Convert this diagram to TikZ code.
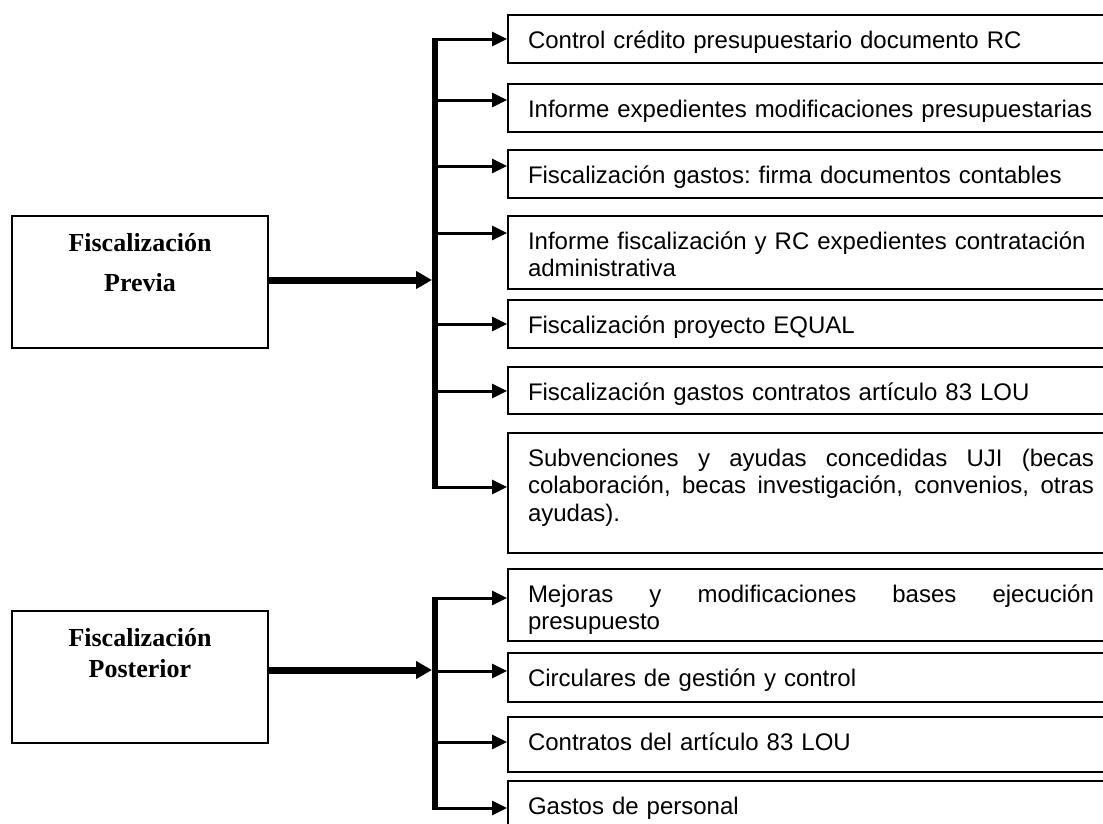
\documentclass[tikz,border=0pt]{standalone}
\usepackage{fontspec}
\setmainfont{Liberation Sans}
\newfontfamily\headfont{Liberation Serif}
\usetikzlibrary{positioning,arrows.meta}
\hyphenpenalty=10000
\exhyphenpenalty=10000
\tolerance=10000
\frenchspacing
\tikzstyle{itembox}=[draw, line width=2pt, anchor=north west, inner xsep=20pt, inner ysep=0pt, text width=566pt, text height=33pt, align=left, font=\fontsize{24}{27.5}\selectfont]
\tikzstyle{headbox}=[draw, line width=2pt, anchor=north west, inner sep=0pt, text width=256pt, text height=35pt, text depth=97pt, align=center, font=\headfont\bfseries\fontsize{26}{30}\selectfont]
\tikzstyle{branch}=[line width=3pt, -{Triangle[length=15pt,width=14pt]}]
\tikzstyle{trunk}=[line width=7pt, -{Triangle[length=16pt,width=17pt]}]
\tikzstyle{bus}=[line width=6pt, shorten <=-1.5pt, shorten >=-1.5pt]

\begin{document}
\begin{tikzpicture}[x=1pt,y=-1pt]
            \clip (0,0) rectangle (1103,823);
            % fiscalizacion previa
            \node [itembox, text depth=15pt] (b1) at (507,14) {Control crédito presupuestario documento RC};
            \node [itembox, text depth=15pt, below=19pt of b1] (b2) {Informe expedientes modificaciones presupuestarias};
            \node [itembox, text depth=15pt, below=16pt of b2] (b3) {Fiscalización gastos: firma documentos contables};
            \node [itembox, text depth=40pt, below=16pt of b3] (b4) {Informe fiscalización y RC expedientes contratación administrativa};
            \node [itembox, text depth=15pt, below=9pt of b4] (b5) {Fiscalización proyecto EQUAL};
            \node [itembox, text depth=14pt, below=17pt of b5] (b6) {Fiscalización gastos contratos artículo 83 LOU};
            \node [itembox, text depth=87pt, align=justify, below=17pt of b6] (b7) {Subvenciones y ayudas concedidas UJI (becas colaboración, becas investigación, convenios, otras ayudas).};
            % fiscalizacion posterior
            \node [itembox, text depth=39pt, align=justify, below=14pt of b7] (b8) {Mejoras y modificaciones bases ejecución presupuesto};
            \node [itembox, text depth=16pt, below=10pt of b8] (b9) {Circulares de gestión y control};
            \node [itembox, text depth=22pt, below=13pt of b9] (b10) {Contratos del artículo 83 LOU};
            \node [itembox, text depth=40pt, below=7pt of b10] (b11) {Gastos de personal};
            \node [headbox] (prev) at (11,215) {Fiscalización\\[10pt]Previa};
            \node [headbox] (post) at (11,610) {Fiscalización\\[1pt]Posterior};
            \foreach \y [count=\i] in {39,100,166,233,324,391,487}
                \coordinate (p\i) at (435,\y);
            \foreach \y [count=\i from 8] in {598,671,742,808}
                \coordinate (p\i) at (435,\y);
            \coordinate (j1) at (432,280);
            \coordinate (j2) at (432,670);
            \draw[bus] (p1) -- (p7);
            \draw[bus] (p8) -- (p11);
            \foreach \i in {1,...,11}
                \draw[branch] (p\i) -- (p\i -| b\i.west);
            \draw[trunk] (prev.east |- j1) -- (j1);
            \draw[trunk] (post.east |- j2) -- (j2);
        \end{tikzpicture}
\end{document}
